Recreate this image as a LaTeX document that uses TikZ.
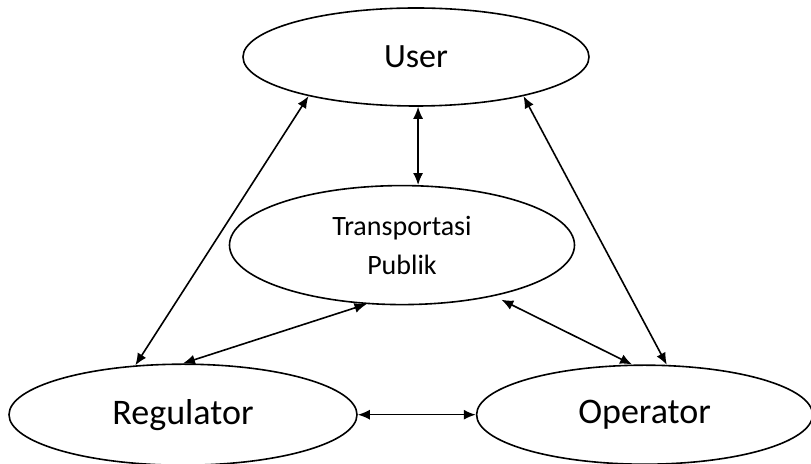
\documentclass[tikz,border=0pt]{standalone}
\usepackage{fontspec}
\setmainfont{Carlito}
\usetikzlibrary{arrows.meta,positioning,shapes.geometric}
\tikzset{
  party/.style={draw, ellipse, line width=0.8pt, inner sep=0pt, align=center},
  big/.style={font=\fontsize{18}{20}\selectfont},
  arrow/.style={<->, >={Latex[length=6pt,width=5pt]}, line width=0.8pt},
}

\begin{document}
\begin{tikzpicture}[x=0.5pt, y=-0.5pt]
  \useasboundingbox (0,0) rectangle (811,464);
  \node[party, font=\fontsize{17}{20}\selectfont, minimum width=173pt, minimum height=49pt] (user) at (416,57) {User};
  \node[party, font=\fontsize{14}{19.5}\selectfont, minimum width=172.5pt, minimum height=59.5pt,
        below=39pt of user, xshift=-7pt] (pub) {Transportasi\\Publik};
  \node[party, big, minimum width=174pt, minimum height=50.5pt,
        below=29pt of pub, xshift=-109.5pt] (reg) {Regulator};
  \node[party, big, minimum width=168pt, minimum height=49.5pt, right=59pt of reg] (op) {Operator};

  \draw[arrow] (user.200) -- (reg.134);
  \draw[arrow] (user.340) -- (op.66);
  \draw[arrow] (pub.75 |- user.south) -- (pub.75);
  \draw[arrow] (pub.239) -- (reg.north);
  \draw[arrow, shorten <=4pt] (pub.331) -- (op.104);
  \draw[arrow] (reg.east) -- (op.west);
\end{tikzpicture}
\end{document}
